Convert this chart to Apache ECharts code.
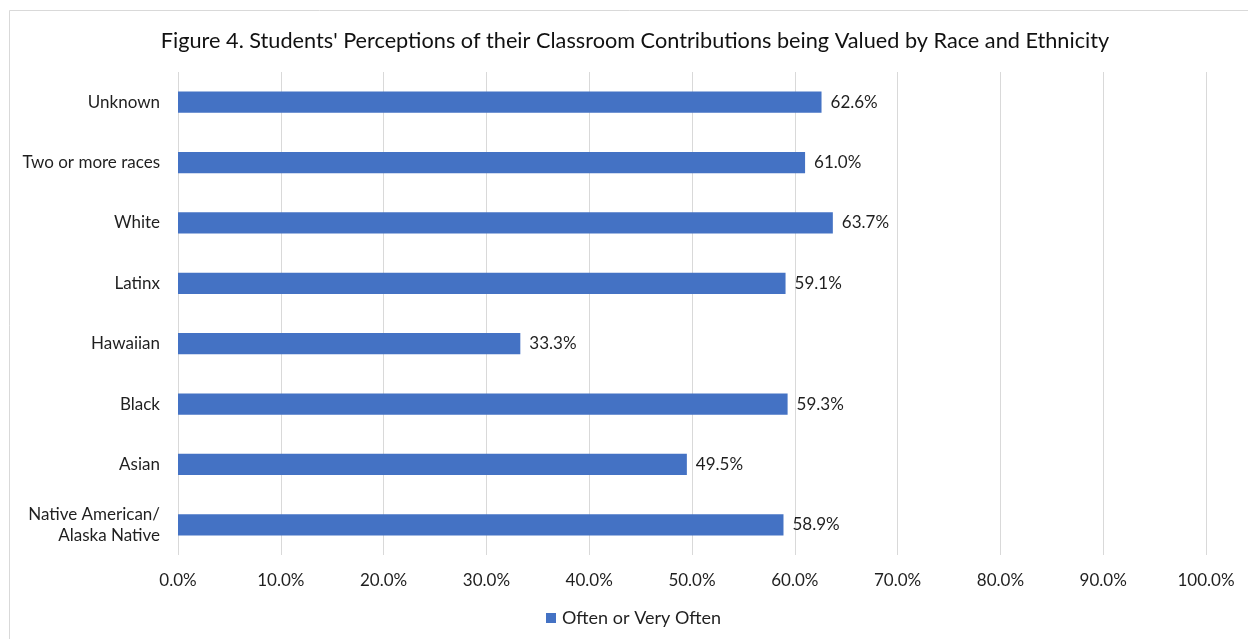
<!DOCTYPE html>
<html>
<head>
<meta charset="utf-8">
<script src="https://cdn.jsdelivr.net/npm/echarts@6/dist/echarts.min.js"></script>
<style>
  html, body { margin: 0; padding: 0; background: #fff; }
  #chart { width: 1248px; height: 639px; }
</style>
</head>
<body>
<div id="chart"></div>
<script>
// Groups, listed bottom to top as they sit on the category axis
const categories = [
  'Native American/\nAlaska Native',
  'Asian',
  'Black',
  'Hawaiian',
  'Latinx',
  'White',
  'Two or more races',
  'Unknown'
];
// Share answering "Often or Very Often" (%)
const oftenValues = [58.9, 49.5, 59.3, 33.3, 59.1, 63.7, 61.0, 62.6];
const seriesName = 'Often or Very Often';
const titleText = "Figure 4. Students' Perceptions of their Classroom Contributions being Valued by Race and Ethnicity";

const FONT = 'Lato, "Open Sans", sans-serif';
const TEXT = '#1f1f1f';

const chart = echarts.init(document.getElementById('chart'), null, { renderer: 'canvas' });
chart.setOption({
  backgroundColor: '#fff',
  animation: false,
  graphic: [{
    type: 'rect',
    shape: { x: 9.5, y: 10.5, width: 1260, height: 660 },
    style: { fill: 'none', stroke: '#d9d9d9', lineWidth: 1 },
    silent: true, z: -1
  }],
  title: {
    text: titleText,
    left: 630, top: 25, textAlign: 'center',
    textStyle: { fontFamily: FONT, fontSize: 21.7, fontWeight: 'normal', color: '#111' }
  },
  legend: {
    data: [seriesName],
    bottom: 7, left: 541,
    icon: 'rect', itemWidth: 10, itemHeight: 10, itemGap: 6,
    textStyle: { fontFamily: FONT, fontSize: 18, color: TEXT, padding: [0, 0, 0, 1] }
  },
  grid: { left: 178, right: 42, top: 72, bottom: 84, containLabel: false },
  xAxis: {
    type: 'value', min: 0, max: 100, interval: 10,
    axisLine: { show: false }, axisTick: { show: false },
    splitLine: { lineStyle: { color: '#d9d9d9', width: 1 } },
    axisLabel: {
      margin: 17, fontFamily: FONT, fontSize: 17, color: TEXT,
      formatter: v => v.toFixed(1) + '%'
    }
  },
  yAxis: {
    type: 'category', data: categories,
    axisLine: { show: false }, axisTick: { show: false },
    axisLabel: { margin: 18, fontFamily: FONT, fontSize: 17, color: TEXT, lineHeight: 21, align: 'right' }
  },
  series: [{
    name: seriesName,
    type: 'bar',
    data: oftenValues,
    barWidth: '35%',
    itemStyle: { color: '#4472C4' },
    label: {
      show: true, position: 'right', distance: 9,
      fontFamily: FONT, fontSize: 17, color: TEXT,
      formatter: p => p.value.toFixed(1) + '%'
    }
  }]
});
</script>
</body>
</html>
